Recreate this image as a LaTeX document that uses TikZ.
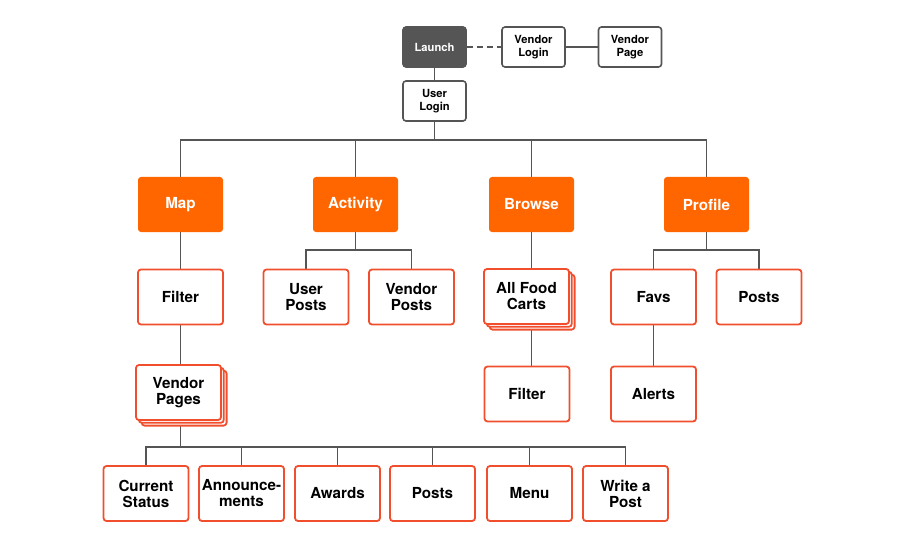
\documentclass[tikz,border=0pt]{standalone}
\usepackage{fontspec}
\setmainfont{TeX Gyre Heros}
\usetikzlibrary{shadows,backgrounds}
\definecolor{carrot}{RGB}{255,102,0}
\definecolor{cardline}{RGB}{240,78,45}
\definecolor{linegray}{RGB}{85,85,85}

\begin{document}
\begin{tikzpicture}[x=0.5pt, y=-0.5pt,
    wire/.style={draw=linegray, line width=0.9pt},
    small/.style={draw=linegray, line width=0.8pt, fill=white, rounded corners=1.5pt,
        minimum width=31.5pt, minimum height=20pt, align=center, inner sep=1pt,
        font=\bfseries\fontsize{5.6}{6.7}\selectfont},
    tab/.style={fill=carrot, text=white, rounded corners=1.5pt,
        minimum width=42.5pt, minimum height=27.5pt,
        font=\bfseries\fontsize{7.6}{8}\selectfont},
    card/.style={draw=cardline, line width=0.9pt, fill=white, rounded corners=1.5pt,
        minimum width=42.5pt, minimum height=27.5pt, align=center, inner sep=1pt,
        font=\bfseries\fontsize{7.6}{8}\selectfont},
    stack/.style={card, double copy shadow={shadow xshift=1.4pt, shadow yshift=-1.4pt,
        draw=cardline, fill=white, line width=0.9pt, opacity=1}}]
    \useasboundingbox (0,0) rectangle (900,556);

    % 顶部: 启动与登录
    \node[small, fill=linegray, text=white] (launch) at (434.5,47) {Launch};
    \node[small] (vlogin) at (533.5,47) {Vendor\\Login};
    \node[small] (vpage) at (630,47) {Vendor\\Page};
    \node[small] (ulogin) at (434.5,101) {User\\Login};

    % 四个主标签
    \node[tab] (map) at (180.5,204.5) {Map};
    \node[tab] (activity) at (355.5,204.5) {Activity};
    \node[tab] (browse) at (531.5,204.5) {Browse};
    \node[tab] (profile) at (706.5,204.5) {Profile};

    % Map 分支
    \node[card] (mapfilter) at (180.5,297) {Filter};
    \node[stack] (vpages) at (178.5,392.5) {Vendor\\Pages};

    % Activity 分支
    \node[card] (userposts) at (306,297) {User\\Posts};
    \node[card] (vendorposts) at (411.5,297) {Vendor\\Posts};

    % Browse 分支
    \node[stack] (allcarts) at (526.5,296.5) {All Food\\Carts};
    \node[card] (cartfilter) at (527,394) {Filter};

    % Profile 分支
    \node[card] (favs) at (653.5,297) {Favs};
    \node[card] (myposts) at (759,297) {Posts};
    \node[card] (alerts) at (653.5,394) {Alerts};

    % 商家页面的子页面
    \node[card] (status) at (146,493.5) {Current\\Status};
    \node[card] (announce) at (241.5,493.5) {Announce-\\ments};
    \node[card] (awards) at (337.5,493.5) {Awards};
    \node[card] (vposts) at (432.5,493.5) {Posts};
    \node[card] (menu) at (529.5,493.5) {Menu};
    \node[card] (writepost) at (625.5,493.5) {Write a\\Post};

    % 总线位置
    \coordinate (topbus) at (434.5,140);
    \coordinate (actbus) at (355.5,250);
    \coordinate (profbus) at (706.5,250);
    \coordinate (pagebus) at (180.5,447);

    \begin{scope}[on background layer]
        % 顶部连线
        \draw[wire, dash pattern=on 3pt off 2pt] (launch) -- (vlogin);
        \draw[wire] (vlogin) -- (vpage);
        \draw[wire] (launch) -- (ulogin);
        \draw[wire] (ulogin) -- (topbus);
        \draw[wire] (map) -- (map |- topbus) -- (profile |- topbus) -- (profile);
        \draw[wire] (activity) -- (activity |- topbus);
        \draw[wire] (browse) -- (browse |- topbus);

        % Map 列
        \draw[wire] (map) -- (mapfilter);
        \draw[wire] (mapfilter) -- (mapfilter |- vpages.north);
        \draw[wire] (vpages.south -| pagebus) -- (pagebus);
        \draw[wire] (status) -- (status |- pagebus) -- (writepost |- pagebus) -- (writepost);
        \foreach \n in {announce,awards,vposts,menu} {
            \draw[wire] (\n) -- (\n |- pagebus);
        }

        % Activity 列
        \draw[wire] (activity) -- (actbus);
        \draw[wire] (userposts) -- (userposts |- actbus) -- (vendorposts |- actbus) -- (vendorposts);

        % Browse 列
        \draw[wire] (browse) -- (browse |- allcarts.north);
        \draw[wire] (allcarts.south -| browse) -- (browse |- cartfilter.north);

        % Profile 列
        \draw[wire] (profile) -- (profbus);
        \draw[wire] (favs) -- (favs |- profbus) -- (myposts |- profbus) -- (myposts);
        \draw[wire] (favs) -- (alerts);
    \end{scope}
\end{tikzpicture}
\end{document}
